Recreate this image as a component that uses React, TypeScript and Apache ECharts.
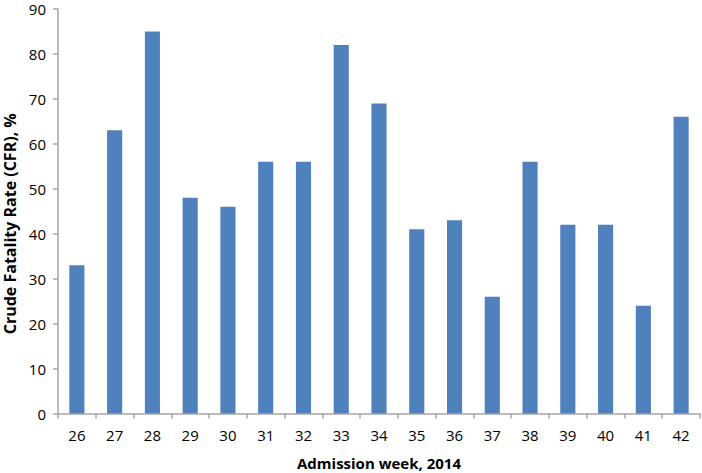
import React, { useEffect, useRef } from "react";
import * as echarts from "echarts";

const weeks = ["26","27","28","29","30","31","32","33","34","35","36","37","38","39","40","41","42"];
const cfr = [33, 63, 85, 48, 46, 56, 56, 82, 69, 41, 43, 26, 56, 42, 42, 24, 66];

export default function App() {
  const ref = useRef<HTMLDivElement>(null);
  useEffect(() => {
    const chart = echarts.init(ref.current!, null, { renderer: "svg" });
    const axisColor = "#a6a6a6";
    chart.setOption({
      animation: false,
      grid: { left: 58, right: 2, top: 9, bottom: 59.5, containLabel: false, outerBoundsMode: "none" },
      xAxis: {
        type: "category",
        data: weeks,
        name: "Admission week, 2014",
        nameLocation: "middle",
        nameGap: 42,
        nameTextStyle: { fontFamily: "Open Sans", fontSize: 15, fontWeight: "bold", color: "#000" },
        axisLine: { lineStyle: { color: axisColor, width: 1.5 } },
        axisTick: { show: true, alignWithLabel: false, length: 5, lineStyle: { color: axisColor, width: 1.5 } },
        axisLabel: { fontFamily: "Open Sans", fontSize: 15, color: "#000", margin: 14 },
      },
      yAxis: {
        type: "value",
        min: 0,
        max: 90,
        interval: 10,
        name: "Crude Fatality Rate (CFR), %",
        nameLocation: "middle",
        nameGap: 38,
        nameTextStyle: {
          fontFamily: "Open Sans",
          fontSize: 16,
          fontWeight: "bold",
          color: "#000",
          padding: [0, 25, 0, 0],
        },
        axisLine: { show: true, lineStyle: { color: axisColor, width: 1.5 } },
        axisTick: { show: true, length: 5, lineStyle: { color: axisColor, width: 1.5 } },
        splitLine: { show: false },
        axisLabel: { fontFamily: "Open Sans", fontSize: 15, lineHeight: 15, color: "#000", margin: 12 },
      },
      series: [
        {
          type: "bar",
          data: cfr,
          barWidth: "40%",
          itemStyle: { color: "#4f81bd" },
        },
      ],
    });
    return () => chart.dispose();
  }, []);
  return <div ref={ref} style={{ width: 702, height: 473, position: "absolute", left: 0, top: 0 }} />;
}
